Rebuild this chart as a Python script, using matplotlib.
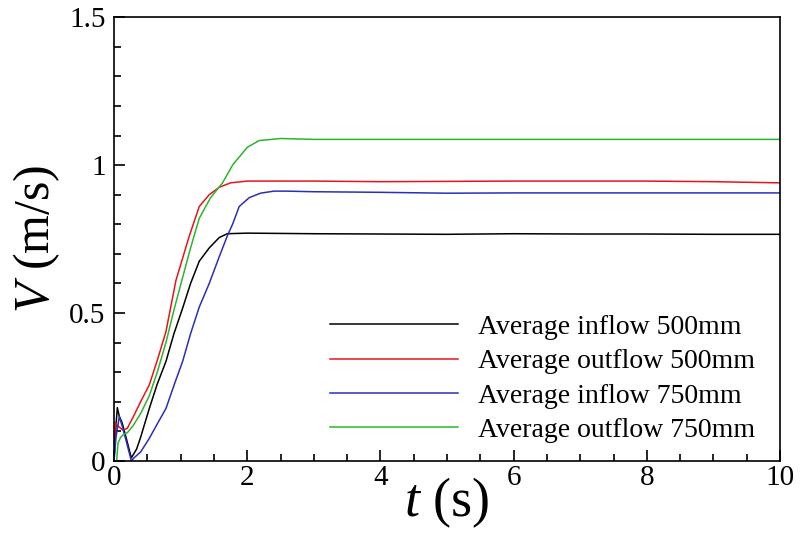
import matplotlib.pyplot as plt
from matplotlib.ticker import MultipleLocator

# Datos
t_in500 = [0, 0.03, 0.05, 0.08, 0.12, 0.18, 0.26, 0.34, 0.4, 0.53, 0.65, 0.78, 0.9, 1.03, 1.15, 1.28, 1.43, 1.58, 1.7, 2.0, 3, 4, 5, 6, 7, 8, 9, 10]
v_in500 = [0, 0.12, 0.18, 0.15, 0.13, 0.08, 0.01, 0.04, 0.08, 0.177, 0.26, 0.336, 0.43, 0.516, 0.6, 0.675, 0.72, 0.755, 0.768, 0.77, 0.768, 0.767, 0.766, 0.768, 0.767, 0.767, 0.766, 0.766]

t_out500 = [0, 0.02, 0.05, 0.1, 0.14, 0.2, 0.29, 0.4, 0.53, 0.65, 0.78, 0.93, 1.13, 1.28, 1.43, 1.58, 1.75, 2.0, 3, 4, 5, 6, 7, 8, 9, 10]
v_out500 = [0, 0.13, 0.12, 0.11, 0.104, 0.11, 0.149, 0.2, 0.257, 0.34, 0.437, 0.61, 0.76, 0.86, 0.9, 0.925, 0.94, 0.946, 0.946, 0.944, 0.945, 0.946, 0.946, 0.946, 0.944, 0.94]

t_in750 = [0, 0.03, 0.08, 0.12, 0.18, 0.26, 0.3, 0.4, 0.53, 0.65, 0.78, 0.9, 1.03, 1.15, 1.28, 1.43, 1.58, 1.7, 1.78, 1.88, 2.03, 2.2, 2.4, 2.6, 3, 4, 5, 6, 7, 8, 9, 10]
v_in750 = [0, 0.08, 0.15, 0.12, 0.07, 0.0, 0.01, 0.03, 0.076, 0.125, 0.177, 0.255, 0.336, 0.43, 0.52, 0.6, 0.69, 0.76, 0.8, 0.86, 0.89, 0.905, 0.912, 0.912, 0.91, 0.908, 0.905, 0.906, 0.906, 0.906, 0.906, 0.906]

t_out750 = [0, 0.04, 0.06, 0.1, 0.15, 0.2, 0.29, 0.4, 0.53, 0.65, 0.78, 0.9, 1.03, 1.15, 1.28, 1.45, 1.63, 1.78, 2.0, 2.18, 2.5, 3, 4, 5, 6, 7, 8, 9, 10]
v_out750 = [0, 0.0, 0.06, 0.08, 0.09, 0.095, 0.12, 0.16, 0.22, 0.3, 0.4, 0.51, 0.62, 0.72, 0.82, 0.89, 0.94, 1.0, 1.06, 1.083, 1.09, 1.087, 1.087, 1.087, 1.087, 1.087, 1.087, 1.087, 1.087]

etiquetas = ['Average inflow 500mm', 'Average outflow 500mm',
             'Average inflow 750mm', 'Average outflow 750mm']
colores = ['black', '#e8141c', '#2a2fb8', '#2db52d']

plt.rcParams['font.family'] = ['Liberation Serif', 'DejaVu Serif']
plt.rcParams['mathtext.fontset'] = 'custom'
plt.rcParams['mathtext.it'] = 'Liberation Serif:italic'
plt.rcParams['mathtext.rm'] = 'Liberation Serif'

fig = plt.figure(figsize=(8, 5.39), dpi=100)
ax = fig.add_axes([0.1425, 0.145, 0.8325, 0.823])

series = [(t_in500, v_in500), (t_out500, v_out500), (t_in750, v_in750), (t_out750, v_out750)]
for (t, v), lab, col in zip(series, etiquetas, colores):
    ax.plot(t, v, color=col, lw=1.1, label=lab)

ax.set_xlim(0, 10)
ax.set_ylim(0, 1.5)
ax.xaxis.set_major_locator(MultipleLocator(2))
ax.xaxis.set_minor_locator(MultipleLocator(0.5))
ax.yaxis.set_major_locator(MultipleLocator(0.5))
ax.yaxis.set_minor_locator(MultipleLocator(0.1))
ax.set_xticks([0, 2, 4, 6, 8, 10], ['0', '2', '4', '6', '8', '10'])
ax.set_yticks([0, 0.5, 1, 1.5], ['0', '0.5', '1', '1.5'])
ax.tick_params(which='both', direction='in', top=False, right=False, labelsize=21, width=1.2)
ax.tick_params(which='major', length=8)
ax.tick_params(axis='x', which='major', pad=3)
ax.tick_params(axis='y', which='major', pad=6)
ax.tick_params(which='minor', length=5)
for s in ax.spines.values():
    s.set_linewidth(1.2)

ax.set_xlabel(r'$t$ (s)', fontsize=39, labelpad=-11)
ax.set_ylabel(r'$V$ (m/s)', fontsize=36, labelpad=5)

ax.legend(loc='upper left', bbox_to_anchor=(0.324, 0.33), frameon=False, fontsize=20,
          handlelength=4.6, handletextpad=0.75, labelspacing=0.32,
          borderpad=0, borderaxespad=0)

plt.savefig('out.png')
